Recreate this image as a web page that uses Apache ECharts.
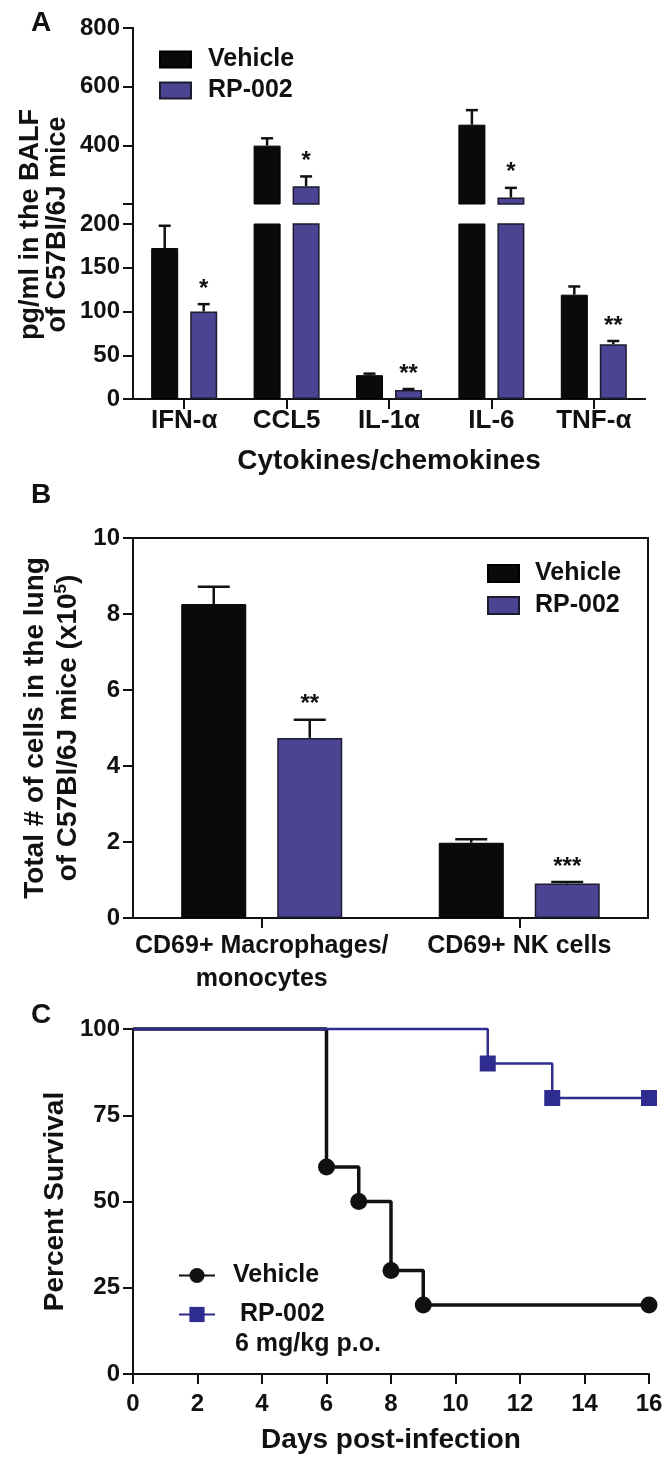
<!DOCTYPE html>
<html><head><meta charset="utf-8">
<script src="https://cdn.jsdelivr.net/npm/echarts@6/dist/echarts.min.js"></script>
<style>html,body{margin:0;padding:0;background:#fff}#c{width:666px;height:1457px}</style>
</head><body><div id="c"></div>
<script>
// ---------- Panel A: cytokines in BALF (pg/ml) ----------
const cytokines = ['IFN-α', 'CCL5', 'IL-1α', 'IL-6', 'TNF-α'];
const cytoVehicle = [172.5, 399, 27.2, 470.5, 119.2];
const cytoVehicleErr = [198, 424, 29, 520, 128.6];   // top of error bar
const cytoRP = [100, 260.7, 10.4, 222, 62.6];
const cytoRPErr = [108.4, 294, 11.4, 255, 66.3];
const cytoRPStars = ['*', '*', '**', '*', '**'];
const cytoBreak = 200;               // axis break value
const cytoUpperRange = [200, 800, 200];
const cytoLowerRange = [0, 200, 50];

// ---------- Panel B: cells in the lung (x10^5) ----------
const cellTypes = ['CD69+ Macrophages/\nmonocytes', 'CD69+ NK cells'];
const cellVehicle = [8.26, 1.98];
const cellVehicleErr = [8.72, 2.07];
const cellRP = [4.74, 0.91];
const cellRPErr = [5.22, 0.95];
const cellRPStars = ['**', '***'];
const cellRange = [0, 10, 2];

// ---------- Panel C: survival ----------
const vehDays = [0, 6, 7, 8, 9, 16];
const vehSurvival = [100, 60, 50, 30, 20, 20];
const rpDays = [0, 11, 13, 16];
const rpSurvival = [100, 90, 80, 80];
const dayRange = [0, 16, 2];
const survRange = [0, 100, 25];

const FONT = '"Liberation Sans", Arial, sans-serif';
const INK = '#111111';
const PURPLE = '#4b4492';
const BLUE = '#2f2c8f';

const axisLine = { show: true, lineStyle: { color: INK, width: 2 } };
const tickOut = { show: true, length: 10, lineStyle: { color: INK, width: 2 } };
const numLabel = { fontFamily: FONT, fontWeight: 'bold', fontSize: 24, color: INK, margin: 13 };

function errSeries(xIdx, yIdx, tops, errs, stars, side, barW, gapPx, capW, keep) {
  const data = [];
  tops.forEach((v, i) => { if (keep(v)) data.push([i, v, errs[i], stars ? stars[i] : '']); });
  return {
    type: 'custom', xAxisIndex: xIdx, yAxisIndex: yIdx, z: 5, clip: false, silent: true,
    data: data.map(d => [d[0], d[1], d[2]]),
    renderItem(params, api) {
      const i = api.value(0);
      const p0 = api.coord([i, api.value(1)]);
      const p1 = api.coord([i, api.value(2)]);
      const x = p0[0] + side * (barW + gapPx) / 2;
      const st = { stroke: INK, lineWidth: 2.5 };
      const ch = [
        { type: 'line', shape: { x1: x, y1: p0[1], x2: x, y2: p1[1] }, style: st },
        { type: 'line', shape: { x1: x - capW / 2, y1: p1[1], x2: x + capW / 2, y2: p1[1] }, style: st }
      ];
      const s = data[params.dataIndex][3];
      if (s) ch.push({ type: 'text', style: { text: s, x: x, y: p1[1] - 3, align: 'center', verticalAlign: 'bottom', font: 'bold 24px ' + FONT, fill: INK } });
      return { type: 'group', children: ch };
    }
  };
}

const A_BW = 27, A_GAP = 12, B_BW = 65, B_GAP = 31;
const vehStyle = { color: '#0a0a0a', borderColor: '#000', borderWidth: 1 };
const rpStyle = { color: PURPLE, borderColor: '#1d1b2e', borderWidth: 1.5 };

const chart = echarts.init(document.getElementById('c'), null, { renderer: 'canvas' });
chart.setOption({
  animation: false,
  backgroundColor: '#fff',
  textStyle: { fontFamily: FONT },
  title: [
    { text: 'A', left: 26, top: 4, textStyle: { fontSize: 28, fontWeight: 'bold', color: INK, fontFamily: FONT } },
    { text: 'B', left: 26, top: 476, textStyle: { fontSize: 28, fontWeight: 'bold', color: INK, fontFamily: FONT } },
    { text: 'C', left: 26, top: 996, textStyle: { fontSize: 28, fontWeight: 'bold', color: INK, fontFamily: FONT } },
    { text: '6 mg/kg p.o.', left: 230, top: 1327, textStyle: { fontSize: 25, fontWeight: 'bold', color: INK, fontFamily: FONT } }
  ],
  legend: [
    { data: ['Vehicle', 'RP-002'], orient: 'vertical', left: 154, top: 42, itemWidth: 31, itemHeight: 16, itemGap: 6, icon: 'rect', selectedMode: false,
      textStyle: { fontSize: 25, fontWeight: 'bold', color: INK, fontFamily: FONT, lineHeight: 25, padding: [0, 0, 0, 12] } },
    { data: ['Vehicle', 'RP-002'], orient: 'vertical', left: 482, top: 556, itemWidth: 31, itemHeight: 17, itemGap: 7, icon: 'rect', selectedMode: false,
      textStyle: { fontSize: 25, fontWeight: 'bold', color: INK, fontFamily: FONT, lineHeight: 25, padding: [0, 0, 0, 11] } },
    { data: ['Vehicle (C)', 'RP-002 (C)'], orient: 'vertical', left: 173, top: 1258, itemWidth: 36, itemHeight: 19, itemGap: 14, selectedMode: false,
      formatter: n => ({ 'Vehicle (C)': 'Vehicle', 'RP-002 (C)': ' RP-002' })[n],
      textStyle: { fontSize: 25, fontWeight: 'bold', color: INK, fontFamily: FONT, lineHeight: 25, padding: [0, 0, 0, 13] } }
  ],
  grid: [
    { left: 133, top: 28, width: 512, height: 176, outerBoundsMode: 'none' },   // A upper
    { left: 133, top: 224, width: 512, height: 175, outerBoundsMode: 'none' },  // A lower
    { left: 133, top: 538, width: 515, height: 380, outerBoundsMode: 'none', show: true, borderColor: INK, borderWidth: 2 }, // B
    { left: 133, top: 1029, width: 516, height: 345, outerBoundsMode: 'none' }, // C
    { left: 133, top: 28, width: 512, height: 371, outerBoundsMode: 'none' }    // A frame
  ],
  xAxis: [
    { type: 'category', gridIndex: 0, data: cytokines, show: false },
    { type: 'category', gridIndex: 1, data: cytokines, position: 'bottom', axisLine: axisLine,
      axisTick: Object.assign({ alignWithLabel: true }, tickOut),
      axisLabel: { fontFamily: FONT, fontWeight: 'bold', fontSize: 26, color: INK, margin: 9, interval: 0 },
      name: 'Cytokines/chemokines', nameLocation: 'middle', nameGap: 48, nameMoveOverlap: false,
      nameTextStyle: { fontFamily: FONT, fontWeight: 'bold', fontSize: 28, color: INK } },
    { type: 'value', gridIndex: 4, position: 'top', min: 0, max: 1, axisLine: axisLine, axisTick: { show: false }, axisLabel: { show: false }, splitLine: { show: false } },
    { type: 'category', gridIndex: 2, data: cellTypes, position: 'bottom', axisLine: axisLine,
      axisTick: Object.assign({ alignWithLabel: true }, tickOut),
      axisLabel: { fontFamily: FONT, fontWeight: 'bold', fontSize: 25, color: INK, margin: 12, interval: 0, lineHeight: 33 } },
    { type: 'value', gridIndex: 3, min: dayRange[0], max: dayRange[1], interval: dayRange[2], axisLine: axisLine, axisTick: tickOut,
      axisLabel: Object.assign({}, numLabel, { margin: 18 }), splitLine: { show: false },
      name: 'Days post-infection', nameLocation: 'middle', nameGap: 52, nameMoveOverlap: false,
      nameTextStyle: { fontFamily: FONT, fontWeight: 'bold', fontSize: 28, color: INK } }
  ],
  yAxis: [
    { type: 'value', gridIndex: 0, min: cytoUpperRange[0], max: cytoUpperRange[1], interval: cytoUpperRange[2],
      axisLine: axisLine, axisTick: tickOut, splitLine: { show: false },
      axisLabel: Object.assign({}, numLabel, { formatter: v => (v === cytoBreak ? '' : String(v)) }) },
    { type: 'value', gridIndex: 1, min: cytoLowerRange[0], max: cytoLowerRange[1], interval: cytoLowerRange[2],
      axisLine: axisLine, axisTick: tickOut, splitLine: { show: false }, axisLabel: numLabel },
    { type: 'value', gridIndex: 4, position: 'right', min: 0, max: 1, axisLine: axisLine, axisTick: { show: false }, axisLabel: { show: false }, splitLine: { show: false } },
    { type: 'value', gridIndex: 4, position: 'left', min: 0, max: 1, axisLine: { show: false }, axisTick: { show: false }, axisLabel: { show: false }, splitLine: { show: false },
      name: 'pg/ml in the BALF\nof C57Bl/6J mice', nameLocation: 'middle', nameGap: 62, nameMoveOverlap: false,
      nameTextStyle: { fontFamily: FONT, fontWeight: 'bold', fontSize: 27, color: INK, lineHeight: 27, padding: [0, 22, 0, 0] } },
    { type: 'value', gridIndex: 2, min: cellRange[0], max: cellRange[1], interval: cellRange[2],
      axisLine: axisLine, axisTick: tickOut, splitLine: { show: false }, axisLabel: numLabel,
      name: '{t|Total # of cells in the lung}\n{t|of C57Bl/6J mice (x10}{s|5}{t|)}', nameLocation: 'middle', nameGap: 48, nameMoveOverlap: false,
      nameTextStyle: { fontFamily: FONT, fontWeight: 'bold', fontSize: 28, color: INK, lineHeight: 33,
        rich: { t: { fontFamily: FONT, fontWeight: 'bold', fontSize: 28, color: INK, lineHeight: 33 },
                s: { fontFamily: FONT, fontWeight: 'bold', fontSize: 17, color: INK, lineHeight: 33, padding: [0, 0, 14, 0] } } } },
    { type: 'value', gridIndex: 3, min: survRange[0], max: survRange[1], interval: survRange[2],
      axisLine: axisLine, axisTick: tickOut, splitLine: { show: false }, axisLabel: numLabel,
      name: 'Percent Survival', nameLocation: 'middle', nameGap: 64, nameMoveOverlap: false,
      nameTextStyle: { fontFamily: FONT, fontWeight: 'bold', fontSize: 28, color: INK } }
  ],
  series: [
    // Panel A upper segment (values above the break)
    { type: 'bar', name: 'Vehicle', xAxisIndex: 0, yAxisIndex: 0, barWidth: A_BW, barGap: (A_GAP / A_BW * 100) + '%',
      data: cytoVehicle.map(v => (v > cytoBreak ? v : '-')), itemStyle: vehStyle, clip: true },
    { type: 'bar', name: 'RP-002', xAxisIndex: 0, yAxisIndex: 0, barWidth: A_BW,
      data: cytoRP.map(v => (v > cytoBreak ? v : '-')), itemStyle: rpStyle, clip: true },
    // Panel A lower segment
    { type: 'bar', name: 'Vehicle', xAxisIndex: 1, yAxisIndex: 1, barWidth: A_BW, barGap: (A_GAP / A_BW * 100) + '%',
      data: cytoVehicle, itemStyle: vehStyle, clip: true },
    { type: 'bar', name: 'RP-002', xAxisIndex: 1, yAxisIndex: 1, barWidth: A_BW,
      data: cytoRP, itemStyle: rpStyle, clip: true },
    errSeries(0, 0, cytoVehicle, cytoVehicleErr, null, -1, A_BW, A_GAP, 12, v => v > cytoBreak),
    errSeries(0, 0, cytoRP, cytoRPErr, cytoRPStars, 1, A_BW, A_GAP, 12, v => v > cytoBreak),
    errSeries(1, 1, cytoVehicle, cytoVehicleErr, null, -1, A_BW, A_GAP, 12, v => v <= cytoBreak),
    errSeries(1, 1, cytoRP, cytoRPErr, cytoRPStars, 1, A_BW, A_GAP, 12, v => v <= cytoBreak),
    // Panel B
    { type: 'bar', name: 'Vehicle', xAxisIndex: 3, yAxisIndex: 4, barWidth: B_BW, barGap: (B_GAP / B_BW * 100) + '%',
      data: cellVehicle, itemStyle: vehStyle },
    { type: 'bar', name: 'RP-002', xAxisIndex: 3, yAxisIndex: 4, barWidth: B_BW, data: cellRP, itemStyle: rpStyle },
    errSeries(3, 4, cellVehicle, cellVehicleErr, null, -1, B_BW, B_GAP, 32, () => true),
    errSeries(3, 4, cellRP, cellRPErr, cellRPStars, 1, B_BW, B_GAP, 32, () => true),
    // Panel C
    { type: 'line', name: 'Vehicle (C)', xAxisIndex: 4, yAxisIndex: 5, step: 'end', clip: false, z: 3,
      data: vehDays.map((d, i) => (i === 0 ? { value: [d, vehSurvival[i]], symbol: 'none' } : [d, vehSurvival[i]])),
      symbol: 'circle', symbolSize: 17, lineStyle: { color: INK, width: 3.5 }, itemStyle: { color: INK } },
    { type: 'line', name: 'RP-002 (C)', xAxisIndex: 4, yAxisIndex: 5, step: 'end', clip: false, z: 4,
      data: rpDays.map((d, i) => (i === 0 ? { value: [d, rpSurvival[i]], symbol: 'none' } : [d, rpSurvival[i]])),
      symbol: 'rect', symbolSize: 16, lineStyle: { color: BLUE, width: 2.5 }, itemStyle: { color: BLUE } }
  ]
});
</script></body></html>
